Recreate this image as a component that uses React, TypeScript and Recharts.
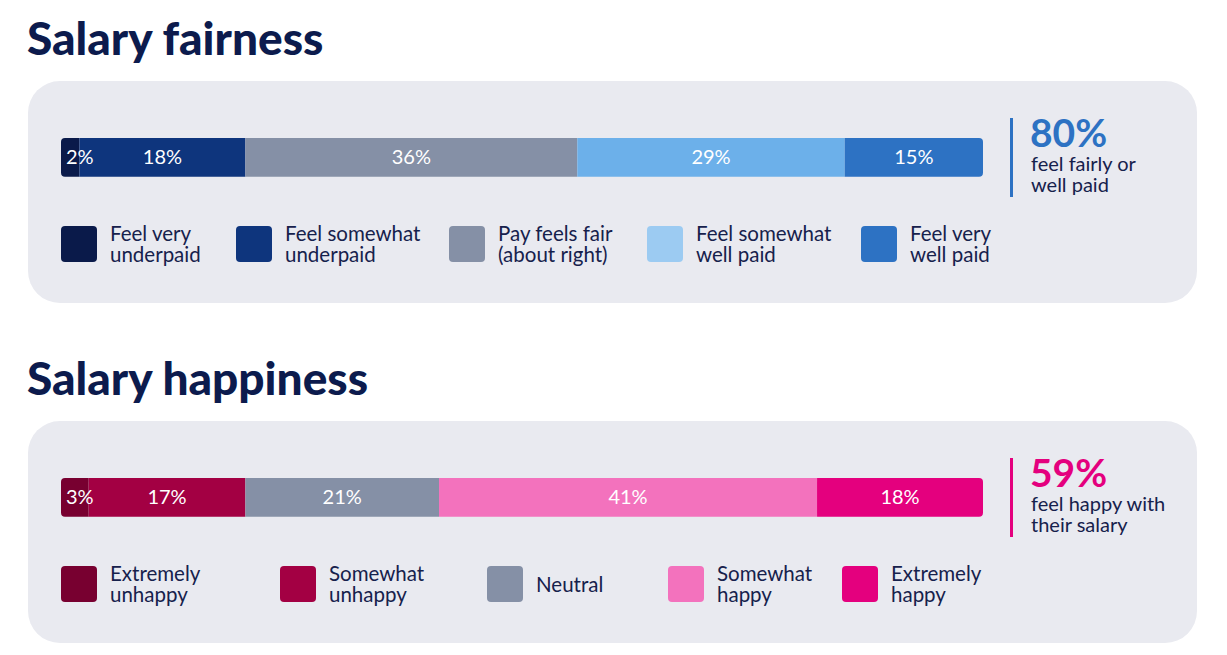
import React from 'react'
import { BarChart, Bar, XAxis, YAxis, LabelList } from 'recharts'

const FONT = 'Lato, "Noto Sans", sans-serif'
const NAVY = '#0c1b4d'
const TEXT = '#16214c'
const PANEL_BG = '#e9eaf0'

// Salary fairness
const fairnessKeys = ['veryUnder', 'someUnder', 'fair', 'someWell', 'veryWell']
const fairnessValues = [2, 18, 36, 29, 15]
const fairnessColors = ['#0a1a4a', '#0e357d', '#8590a6', '#6cb0ea', '#2d72c3']
const fairnessLegendColors = ['#0a1a4a', '#0e357d', '#8590a6', '#9ccbf2', '#2d72c3']
const fairnessLabels = [
  ['Feel very', 'underpaid'],
  ['Feel somewhat', 'underpaid'],
  ['Pay feels fair', '(about right)'],
  ['Feel somewhat', 'well paid'],
  ['Feel very', 'well paid'],
]
const fairnessLegendX = [61, 236, 449, 647, 861]

// Salary happiness
const happinessKeys = ['extUnhappy', 'someUnhappy', 'neutral', 'someHappy', 'extHappy']
const happinessValues = [3, 17, 21, 41, 18]
const happinessColors = ['#780030', '#a30043', '#8590a6', '#f372bd', '#e4007e']
const happinessLabels = [
  ['Extremely', 'unhappy'],
  ['Somewhat', 'unhappy'],
  ['Neutral'],
  ['Somewhat', 'happy'],
  ['Extremely', 'happy'],
]
const happinessLegendX = [61, 280, 487, 668, 842]

const SegmentLabel = (props: any) => {
  const { x, y, width, height, value } = props
  const small = width < 40
  return (
    <text
      x={small ? x + 5 : x + width / 2}
      y={y + height / 2}
      dy={7}
      textAnchor={small ? 'start' : 'middle'}
      fill="#ffffff"
      fontSize={20}
      fontFamily={FONT}
    >
      {value}%
    </text>
  )
}

type PanelProps = {
  title: string
  top: number
  keys: string[]
  values: number[]
  colors: string[]
  legendColors: string[]
  labels: string[][]
  legendX: number[]
  stat: string
  statColor: string
  statText: string[]
}

const Panel = ({ title, top, keys, values, colors, legendColors, labels, legendX, stat, statColor, statText }: PanelProps) => {
  const row: Record<string, any> = { name: title }
  keys.forEach((k, i) => (row[k] = values[i]))
  const data = [row]
  return (
    <>
      <div
        style={{
          position: 'absolute',
          left: 27,
          top: top - 66,
          fontFamily: FONT,
          fontWeight: 900,
          fontSize: 46,
          color: NAVY,
          lineHeight: '46px',
          whiteSpace: 'nowrap',
        }}
      >
        {title}
      </div>
      <div
        style={{
          position: 'absolute',
          left: 28,
          top: top,
          width: 1169,
          height: 222,
          borderRadius: 32,
          background: PANEL_BG,
        }}
      />
      <div style={{ position: 'absolute', left: 61, top: top + 55 }}>
        <BarChart
          width={922}
          height={43}
          data={data}
          layout="vertical"
          margin={{ top: 0, right: 0, bottom: 0, left: 0 }}
          barCategoryGap={0}
        >
          <XAxis type="number" domain={[0, 100]} hide />
          <YAxis type="category" dataKey="name" hide />
          {keys.map((k, i) => (
            <Bar
              key={k}
              dataKey={k}
              stackId="a"
              fill={colors[i]}
              barSize={43}
              isAnimationActive={false}
              radius={i === 0 ? [4, 0, 0, 4] : i === keys.length - 1 ? [0, 4, 4, 0] : 0}
            >
              <LabelList dataKey={k} content={SegmentLabel} />
            </Bar>
          ))}
        </BarChart>
      </div>
      {labels.map((lines, i) => (
        <React.Fragment key={i}>
          <div
            style={{
              position: 'absolute',
              left: legendX[i],
              top: top + 145,
              width: 36,
              height: 36,
              borderRadius: 4,
              background: legendColors[i],
            }}
          />
          <div
            style={{
              position: 'absolute',
              left: legendX[i] + 49,
              top: top + 142 + (lines.length === 1 ? 11 : 0),
              fontFamily: FONT,
              fontSize: 20.5,
              lineHeight: '21px',
              color: TEXT,
              whiteSpace: 'nowrap',
            }}
          >
            {lines.map((l, j) => (
              <div key={j}>{l}</div>
            ))}
          </div>
        </React.Fragment>
      ))}
      <div
        style={{
          position: 'absolute',
          left: 1010,
          top: top + 37,
          width: 3,
          height: 79,
          background: statColor,
        }}
      />
      <div
        style={{
          position: 'absolute',
          left: 1030,
          top: top + 32,
          fontFamily: FONT,
          fontWeight: 700,
          fontSize: 39,
          lineHeight: '39px',
          color: statColor,
        }}
      >
        {stat}
      </div>
      <div
        style={{
          position: 'absolute',
          left: 1031,
          top: top + 72,
          fontFamily: FONT,
          fontSize: 20,
          lineHeight: '21px',
          color: TEXT,
          whiteSpace: 'nowrap',
        }}
      >
        {statText.map((l, j) => (
          <div key={j}>{l}</div>
        ))}
      </div>
    </>
  )
}

export default function App() {
  return (
    <div
      style={{
        position: 'absolute',
        left: 0,
        top: 0,
        width: 1227,
        height: 655,
        background: '#ffffff',
        overflow: 'hidden',
      }}
    >
      <Panel
        title="Salary fairness"
        top={81}
        keys={fairnessKeys}
        values={fairnessValues}
        colors={fairnessColors}
        legendColors={fairnessLegendColors}
        labels={fairnessLabels}
        legendX={fairnessLegendX}
        stat="80%"
        statColor="#2d72c3"
        statText={['feel fairly or', 'well paid']}
      />
      <Panel
        title="Salary happiness"
        top={421}
        keys={happinessKeys}
        values={happinessValues}
        colors={happinessColors}
        legendColors={happinessColors}
        labels={happinessLabels}
        legendX={happinessLegendX}
        stat="59%"
        statColor="#e4007e"
        statText={['feel happy with', 'their salary']}
      />
    </div>
  )
}
